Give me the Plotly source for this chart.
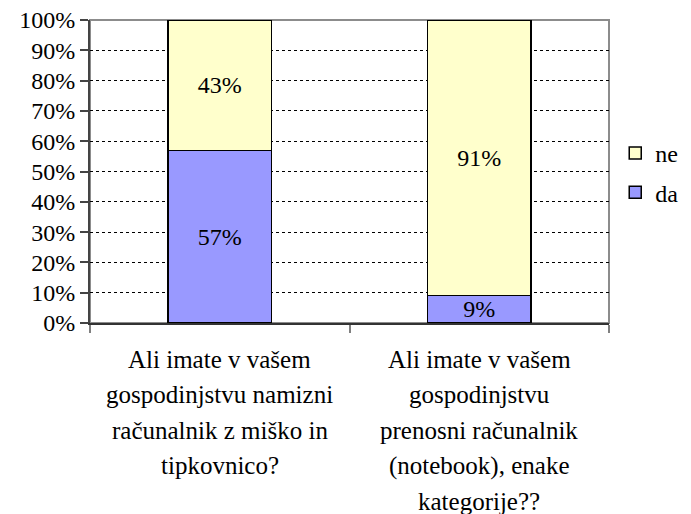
import plotly.graph_objects as go

categories = ["q1", "q2"]
category_lines = [
    ["Ali imate v vašem", "gospodinjstvu namizni", "računalnik z miško in", "tipkovnico?"],
    ["Ali imate v vašem", "gospodinjstvu", "prenosni računalnik", "(notebook), enake", "kategorije??"],
]
da_values = [57, 9]
ne_values = [43, 91]

FONT = "Liberation Serif, Times New Roman, serif"
FS = 24

fig = go.Figure()

fig.add_trace(go.Bar(
    x=categories, y=da_values, name="da", legendgroup="da", legendrank=2,
    marker=dict(color="#9999FF", line=dict(color="black", width=1.5)),
    text=[f"{v}%" for v in da_values], textposition="inside",
    insidetextanchor="middle", constraintext="none",
    textfont=dict(family=FONT, size=FS, color="black"),
))
fig.add_trace(go.Bar(
    x=categories, y=ne_values, name="ne", legendgroup="ne", legendrank=1,
    marker=dict(color="#FFFFCC", line=dict(color="black", width=1.5)),
    text=[f"{v}%" for v in ne_values], textposition="inside",
    insidetextanchor="middle", constraintext="none",
    textfont=dict(family=FONT, size=FS, color="black"),
))

# multi-line category labels, one annotation per line for wider line spacing
for cat, lines in zip(categories, category_lines):
    for i, line in enumerate(lines):
        fig.add_annotation(
            x=cat, xref="x", y=0, yref="paper",
            text=line, showarrow=False,
            yanchor="middle", yshift=-(36 + 35.5 * i),
            font=dict(family=FONT, size=25, color="black"),
        )

# plot area frame (gray)
fig.add_shape(type="rect", xref="paper", yref="paper", x0=0, x1=1, y0=0, y1=1,
              line=dict(color="#8c8c8c", width=2), layer="below")

fig.update_layout(
    width=691, height=514,
    margin=dict(l=90, r=82, t=20, b=191, autoexpand=False),
    barmode="stack", bargap=0.6,
    plot_bgcolor="white", paper_bgcolor="white",
    font=dict(family=FONT, size=FS, color="black"),
    showlegend=True,
    legend=dict(
        x=1.012, y=0.495, xanchor="left", yanchor="middle",
        traceorder="grouped", tracegroupgap=5,
        font=dict(family=FONT, size=FS),
        bgcolor="rgba(0,0,0,0)", itemwidth=30,
    ),
)

fig.update_xaxes(
    showticklabels=False, showgrid=False, automargin=False,
    showline=True, linecolor="#333333", linewidth=2,
    ticks="outside", tickson="boundaries", ticklen=8, tickcolor="#808080", tickwidth=2,
)
fig.update_yaxes(
    range=[0, 100], tickmode="linear", tick0=0, dtick=10, ticksuffix="%",
    showgrid=True, gridcolor="black", griddash="dot", gridwidth=1,
    showline=True, linecolor="#444444", linewidth=2, automargin=False,
    ticks="outside", ticklen=8, tickcolor="#444444", tickwidth=2,
    tickfont=dict(family=FONT, size=FS), zeroline=False,
    ticklabeloverflow="allow",
)

# drop the default page margin so the figure sits at the window's corner
fig.write_html("out.html", config={"displayModeBar": False},
               post_script="document.body.style.margin='0';")
